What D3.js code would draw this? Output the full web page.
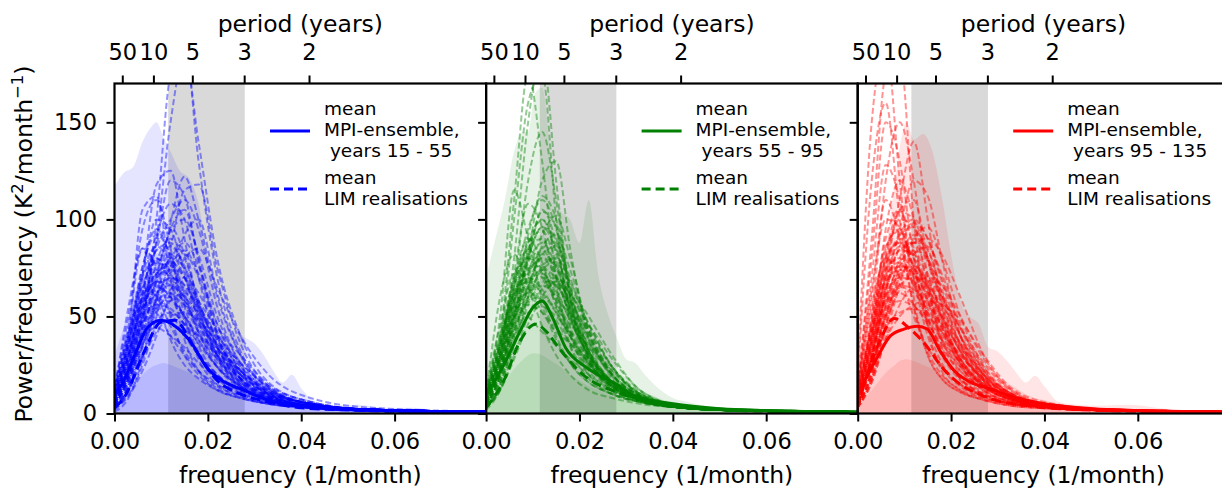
<!DOCTYPE html>
<html>
<head>
<meta charset="utf-8">
<script src="https://cdn.jsdelivr.net/npm/d3@7"></script>
<style>
  body { margin: 0; background: #fff; }
  svg { display: block; font-family: "DejaVu Sans", sans-serif; }
</style>
</head>
<body>
<svg id="chart" width="1222" height="490"></svg>
<script>
// ---- data ----
const periodTicks = [50, 10, 5, 3, 2];          // years
const freqTicks = [0, 0.02, 0.04, 0.06];
const powerTicks = [0, 50, 100, 150];
const band = [0.0115, 0.0279];                   // grey ENSO band
const yearLabels = ['15 - 55', '55 - 95', '95 - 135'];
const colors = ['blue', 'green', 'red'];

// frequency grid of the single LIM realisations
const realFreq = [0, 0.003, 0.006, 0.009, 0.012, 0.015, 0.018, 0.022, 0.027, 0.033, 0.042, 0.055, 0.08];

const blueReal = [
  [8, 30, 70, 118, 125, 90, 55, 30, 16, 9, 4, 2, 1],
  [5, 20, 50, 90, 150, 185, 140, 80, 40, 16, 6, 2, 1],
  [3, 15, 45, 100, 175, 190, 130, 70, 32, 14, 5, 2, 1],
  [10, 35, 75, 95, 80, 55, 35, 20, 12, 7, 3, 1.5, 0.8],
  [6, 25, 60, 85, 100, 110, 95, 55, 25, 11, 5, 2, 1],
  [12, 45, 85, 75, 50, 30, 20, 12, 8, 5, 3, 1.5, 0.8],
  [4, 18, 40, 70, 95, 105, 80, 40, 18, 9, 4, 2, 1],
  [9, 30, 55, 65, 60, 45, 30, 18, 10, 6, 3, 1.5, 0.8],
  [2, 12, 35, 60, 80, 75, 55, 30, 15, 8, 4, 2, 1],
  [15, 50, 95, 110, 85, 50, 28, 15, 9, 5, 3, 1.5, 0.8],
  [7, 28, 62, 92, 108, 100, 70, 35, 17, 8, 4, 2, 1],
  [5, 20, 42, 55, 58, 50, 38, 24, 14, 8, 4, 2, 1],
  [10, 38, 70, 80, 68, 48, 32, 20, 11, 6, 3, 1.5, 0.8],
  [3, 10, 25, 50, 85, 115, 118, 75, 36, 14, 5, 2, 1],
  [8, 32, 60, 72, 78, 70, 52, 32, 18, 9, 4, 2, 1],
  [12, 40, 65, 60, 45, 32, 22, 14, 9, 5, 3, 1.5, 0.8],
  [6, 22, 48, 78, 90, 80, 58, 35, 20, 10, 4, 2, 1],
  [4, 16, 35, 48, 52, 46, 36, 24, 14, 8, 4, 2, 1],
  [9, 35, 72, 100, 95, 72, 48, 28, 15, 8, 4, 2, 1],
  [2, 9, 22, 40, 62, 80, 85, 65, 40, 20, 8, 3, 1],
  [14, 42, 58, 52, 40, 30, 22, 15, 10, 6, 3, 1.5, 0.8],
  [5, 24, 55, 88, 120, 112, 78, 42, 20, 10, 5, 2, 1],
  [7, 26, 50, 62, 66, 60, 48, 34, 22, 12, 5, 2, 1],
  [3, 14, 30, 45, 58, 62, 55, 40, 26, 14, 6, 2, 1],
  [11, 36, 64, 84, 88, 74, 52, 30, 16, 8, 4, 2, 1],
  [6, 20, 38, 44, 40, 34, 26, 18, 11, 7, 3, 1.5, 0.8],
  [4, 18, 42, 68, 82, 70, 50, 30, 18, 10, 5, 2, 1],
  [8, 30, 58, 74, 70, 56, 42, 30, 20, 11, 5, 2, 1],
  [1, 8, 28, 60, 98, 122, 100, 60, 30, 13, 5, 2, 1],
  [10, 30, 48, 58, 62, 58, 46, 28, 14, 7, 3, 1.5, 0.8],
  [6, 40, 105, 112, 70, 38, 22, 13, 8, 5, 3, 1.5, 0.8],
  [10, 55, 85, 60, 38, 25, 18, 12, 8, 5, 3, 1.5, 0.8],
  [5, 22, 52, 80, 75, 82, 70, 40, 18, 9, 4, 2, 1],
  [3, 12, 30, 55, 72, 92, 100, 62, 30, 13, 5, 2, 1],
  [4, 20, 45, 62, 70, 64, 50, 36, 22, 11, 5, 2, 1],
  [7, 28, 52, 70, 74, 66, 54, 38, 24, 12, 5, 2, 1],
  [10, 34, 58, 66, 60, 50, 40, 28, 16, 8, 4, 2, 1],
  [5, 18, 36, 52, 64, 70, 62, 42, 22, 10, 4, 2, 1],
  [12, 42, 72, 86, 78, 60, 42, 26, 14, 7, 3, 1.5, 0.8],
  [3, 14, 34, 58, 76, 84, 72, 46, 24, 11, 5, 2, 1],
  [8, 26, 46, 56, 54, 46, 40, 32, 20, 10, 4, 2, 1],
  [6, 24, 50, 76, 86, 76, 56, 34, 18, 9, 4, 2, 1],
  [9, 36, 66, 78, 72, 58, 44, 30, 17, 8, 4, 2, 1],
  [4, 16, 38, 60, 70, 66, 56, 38, 20, 10, 4, 2, 1],
  [11, 32, 54, 60, 52, 40, 30, 20, 12, 7, 3, 1.5, 0.8],
  [5, 22, 48, 68, 80, 88, 76, 46, 22, 10, 4, 2, 1],
  [7, 30, 62, 88, 96, 82, 58, 34, 18, 9, 4, 2, 1],
  [3, 12, 28, 42, 50, 52, 48, 36, 22, 11, 5, 2, 1],
  [10, 40, 76, 92, 82, 62, 42, 24, 13, 7, 3, 1.5, 0.8],
  [6, 20, 40, 54, 60, 56, 46, 34, 22, 12, 5, 2, 1],
  [8, 30, 56, 68, 66, 60, 52, 40, 26, 13, 5, 2, 1],
  [4, 18, 44, 72, 94, 100, 82, 50, 26, 12, 5, 2, 1],
  [12, 38, 60, 68, 62, 50, 38, 24, 14, 7, 3, 1.5, 0.8],
  [5, 26, 54, 72, 76, 70, 58, 44, 30, 15, 6, 2, 1]
];

const greenReal = [
  [6, 30, 80, 150, 185, 120, 60, 28, 14, 7, 3, 1.5, 0.8],
  [8, 40, 110, 175, 130, 70, 35, 18, 10, 6, 3, 1.5, 0.8],
  [5, 25, 65, 120, 145, 110, 60, 28, 13, 7, 3, 1.5, 0.8],
  [10, 60, 82, 65, 45, 30, 20, 12, 8, 5, 3, 1.5, 0.8],
  [7, 28, 60, 88, 100, 85, 55, 28, 13, 7, 3, 1.5, 0.8],
  [4, 20, 50, 80, 96, 90, 62, 32, 15, 8, 3, 1.5, 0.8],
  [9, 35, 70, 90, 78, 55, 35, 20, 11, 6, 3, 1.5, 0.8],
  [3, 14, 38, 65, 82, 75, 55, 32, 16, 8, 3, 1.5, 0.8],
  [12, 45, 72, 70, 55, 38, 26, 16, 10, 6, 3, 1.5, 0.8],
  [5, 22, 48, 72, 92, 102, 80, 42, 18, 8, 3, 1.5, 0.8],
  [8, 32, 58, 75, 70, 58, 42, 26, 14, 7, 3, 1.5, 0.8],
  [2, 12, 34, 60, 85, 88, 66, 50, 30, 12, 4, 2, 1],
  [6, 24, 52, 68, 72, 62, 48, 30, 16, 8, 3, 1.5, 0.8],
  [10, 38, 62, 64, 52, 42, 36, 28, 16, 8, 3, 1.5, 0.8],
  [4, 18, 42, 58, 60, 52, 40, 25, 14, 7, 3, 1.5, 0.8],
  [7, 30, 66, 95, 110, 95, 60, 30, 14, 7, 3, 1.5, 0.8],
  [5, 20, 40, 52, 55, 50, 42, 35, 22, 10, 4, 2, 1],
  [3, 16, 44, 78, 105, 88, 52, 26, 12, 6, 3, 1.5, 0.8],
  [9, 30, 54, 62, 58, 48, 36, 24, 14, 7, 3, 1.5, 0.8],
  [6, 26, 55, 85, 90, 70, 52, 45, 28, 12, 4, 2, 1],
  [11, 40, 55, 50, 42, 35, 28, 20, 12, 7, 3, 1.5, 0.8],
  [4, 20, 48, 82, 120, 130, 85, 38, 16, 8, 3, 1.5, 0.8],
  [6, 22, 45, 60, 68, 66, 52, 32, 17, 8, 3, 1.5, 0.8],
  [8, 34, 68, 80, 74, 60, 44, 28, 15, 7, 3, 1.5, 0.8],
  [3, 12, 28, 46, 60, 68, 62, 44, 24, 11, 4, 2, 1],
  [7, 50, 115, 90, 60, 40, 26, 16, 10, 6, 3, 1.5, 0.8],
  [5, 24, 56, 92, 112, 100, 66, 32, 15, 7, 3, 1.5, 0.8],
  [9, 28, 50, 56, 52, 44, 36, 26, 16, 8, 3, 1.5, 0.8],
  [4, 16, 36, 56, 76, 80, 68, 46, 24, 10, 4, 2, 1],
  [6, 30, 72, 108, 96, 64, 40, 22, 12, 6, 3, 1.5, 0.8],
  [2, 35, 100, 160, 175, 100, 45, 20, 10, 6, 3, 1.5, 0.8],
  [8, 36, 62, 74, 84, 72, 50, 30, 15, 7, 3, 1.5, 0.8],
  [5, 22, 50, 72, 80, 70, 50, 30, 15, 7, 3, 1.5, 0.8],
  [8, 30, 58, 78, 88, 76, 54, 32, 16, 8, 3, 1.5, 0.8],
  [4, 18, 42, 66, 82, 86, 70, 42, 20, 9, 3, 1.5, 0.8],
  [10, 36, 62, 70, 64, 52, 40, 26, 14, 7, 3, 1.5, 0.8],
  [6, 24, 52, 80, 96, 84, 58, 32, 16, 8, 3, 1.5, 0.8],
  [3, 14, 36, 60, 74, 78, 64, 40, 20, 9, 3, 1.5, 0.8],
  [7, 28, 56, 74, 76, 64, 48, 30, 16, 8, 3, 1.5, 0.8],
  [9, 34, 60, 68, 62, 54, 46, 34, 20, 9, 3, 1.5, 0.8],
  [5, 20, 46, 70, 86, 92, 74, 44, 20, 9, 3, 1.5, 0.8],
  [6, 26, 50, 62, 66, 60, 50, 36, 20, 9, 3, 1.5, 0.8],
  [8, 32, 64, 88, 94, 78, 54, 30, 15, 7, 3, 1.5, 0.8],
  [4, 16, 40, 64, 80, 76, 60, 38, 19, 9, 3, 1.5, 0.8],
  [10, 40, 70, 84, 76, 58, 42, 26, 14, 7, 3, 1.5, 0.8],
  [5, 22, 44, 58, 66, 70, 62, 46, 24, 10, 4, 2, 1],
  [7, 30, 60, 82, 104, 96, 64, 34, 16, 8, 3, 1.5, 0.8],
  [3, 12, 30, 50, 64, 68, 58, 40, 22, 10, 4, 2, 1],
  [9, 36, 66, 80, 72, 56, 40, 24, 13, 7, 3, 1.5, 0.8],
  [6, 24, 48, 66, 74, 70, 58, 42, 24, 10, 4, 2, 1],
  [4, 20, 50, 84, 100, 82, 52, 28, 14, 7, 3, 1.5, 0.8],
  [8, 28, 52, 64, 70, 66, 56, 38, 20, 9, 3, 1.5, 0.8]
];

const redReal = [
  [20, 150, 190, 120, 60, 30, 18, 11, 7, 4, 2.5, 1.5, 0.8],
  [10, 90, 175, 185, 100, 45, 22, 12, 7, 4, 2.5, 1.5, 0.8],
  [8, 50, 120, 150, 120, 70, 35, 18, 10, 5, 3, 1.5, 0.8],
  [6, 40, 95, 120, 100, 65, 38, 20, 11, 6, 3, 1.5, 0.8],
  [12, 60, 110, 90, 55, 32, 20, 12, 8, 5, 3, 1.5, 0.8],
  [5, 30, 75, 105, 110, 80, 48, 25, 12, 6, 3, 1.5, 0.8],
  [9, 45, 85, 95, 75, 50, 32, 18, 10, 6, 3, 1.5, 0.8],
  [4, 22, 55, 80, 92, 85, 62, 35, 17, 8, 3, 1.5, 0.8],
  [14, 55, 80, 70, 50, 34, 24, 15, 9, 5, 3, 1.5, 0.8],
  [6, 28, 62, 85, 88, 72, 50, 28, 14, 7, 3, 1.5, 0.8],
  [3, 18, 45, 72, 90, 96, 80, 50, 24, 10, 4, 2, 1],
  [10, 40, 70, 78, 66, 48, 34, 22, 13, 7, 3, 1.5, 0.8],
  [7, 30, 60, 70, 68, 58, 44, 30, 18, 9, 4, 2, 1],
  [5, 25, 52, 65, 62, 52, 40, 26, 14, 7, 3, 1.5, 0.8],
  [12, 70, 128, 110, 70, 40, 24, 14, 8, 5, 3, 1.5, 0.8],
  [4, 20, 48, 75, 88, 90, 82, 60, 30, 12, 4, 2, 1],
  [8, 35, 66, 76, 72, 60, 45, 28, 15, 8, 3, 1.5, 0.8],
  [6, 26, 50, 58, 55, 48, 38, 26, 15, 8, 3, 1.5, 0.8],
  [15, 80, 150, 130, 80, 45, 26, 15, 9, 5, 3, 1.5, 0.8],
  [5, 30, 68, 92, 100, 90, 70, 44, 22, 10, 4, 2, 1],
  [9, 36, 58, 62, 56, 46, 36, 24, 14, 7, 3, 1.5, 0.8],
  [3, 16, 40, 66, 84, 80, 62, 40, 20, 9, 4, 2, 1],
  [11, 48, 90, 105, 85, 58, 38, 22, 12, 6, 3, 1.5, 0.8],
  [6, 24, 44, 52, 54, 50, 42, 30, 18, 9, 4, 2, 1],
  [7, 38, 80, 100, 96, 78, 60, 44, 26, 11, 4, 2, 1],
  [4, 22, 50, 70, 76, 66, 50, 32, 17, 8, 3, 1.5, 0.8],
  [18, 120, 160, 100, 55, 30, 18, 11, 7, 4, 2.5, 1.5, 0.8],
  [5, 28, 64, 95, 120, 112, 80, 40, 18, 8, 3, 1.5, 0.8],
  [8, 32, 55, 66, 64, 56, 46, 34, 20, 10, 4, 2, 1],
  [10, 44, 78, 88, 80, 64, 46, 28, 15, 8, 3, 1.5, 0.8],
  [6, 34, 72, 110, 140, 100, 55, 26, 12, 6, 3, 1.5, 0.8],
  [4, 18, 38, 50, 56, 58, 56, 48, 30, 13, 5, 2, 1],
  [6, 30, 64, 84, 82, 66, 48, 28, 14, 7, 3, 1.5, 0.8],
  [9, 40, 76, 90, 80, 62, 44, 26, 14, 7, 3, 1.5, 0.8],
  [4, 22, 52, 76, 88, 80, 60, 36, 18, 8, 3, 1.5, 0.8],
  [12, 50, 86, 94, 74, 50, 32, 18, 10, 5, 3, 1.5, 0.8],
  [5, 26, 56, 72, 74, 64, 50, 32, 17, 8, 3, 1.5, 0.8],
  [8, 36, 70, 86, 84, 70, 52, 32, 16, 8, 3, 1.5, 0.8],
  [3, 18, 44, 68, 82, 86, 72, 46, 22, 10, 4, 2, 1],
  [10, 44, 74, 80, 68, 52, 38, 24, 13, 7, 3, 1.5, 0.8],
  [6, 28, 58, 78, 90, 84, 64, 40, 20, 9, 3, 1.5, 0.8],
  [7, 34, 64, 76, 72, 62, 50, 36, 20, 9, 3, 1.5, 0.8],
  [14, 64, 100, 96, 70, 46, 30, 17, 9, 5, 3, 1.5, 0.8],
  [5, 24, 50, 66, 70, 66, 56, 40, 22, 10, 4, 2, 1],
  [9, 38, 72, 92, 96, 80, 58, 34, 17, 8, 3, 1.5, 0.8],
  [4, 20, 46, 64, 72, 70, 60, 44, 24, 10, 4, 2, 1],
  [11, 46, 80, 88, 76, 58, 42, 26, 14, 7, 3, 1.5, 0.8],
  [6, 30, 60, 74, 76, 68, 54, 36, 19, 9, 3, 1.5, 0.8],
  [8, 40, 82, 104, 100, 80, 56, 32, 16, 8, 3, 1.5, 0.8],
  [3, 16, 38, 56, 66, 70, 66, 50, 28, 12, 4, 2, 1],
  [10, 42, 68, 74, 66, 54, 42, 28, 15, 7, 3, 1.5, 0.8],
  [5, 28, 62, 86, 98, 90, 68, 40, 20, 9, 3, 1.5, 0.8]
];

// envelopes of the MPI ensemble (shaded)
const fillFreq = [0, 0.002, 0.004, 0.006, 0.008, 0.009, 0.0105, 0.012, 0.014, 0.016, 0.018, 0.020, 0.022, 0.024,
  0.026, 0.028, 0.030, 0.032, 0.034, 0.036, 0.038, 0.040, 0.043, 0.047, 0.052, 0.058, 0.064, 0.070, 0.080];

const blueUpper = [117, 124, 127, 140, 148, 150, 142, 135, 125, 121, 108, 80, 58, 46, 42, 39, 36, 30, 22, 16, 20, 13, 6, 4, 4.5, 3, 3, 1.5, 1];
const blueMid = [30, 45, 60, 72, 80, 82, 82, 80, 72, 60, 50, 42, 36, 30, 25, 20, 16, 13, 10, 8, 7, 5, 4, 3, 2.5, 2, 1.5, 1.2, 0.8];
const blueLow = [3, 8, 14, 20, 24, 25, 26, 25, 23, 21, 18, 16, 13, 11, 9, 8, 7, 6, 5, 4, 3.5, 3, 2.5, 2, 1.5, 1.2, 1, 0.8, 0.5];

const greenUpper = [70, 90, 110, 135, 145, 145, 165, 168, 130, 104, 100, 88, 110, 72, 52, 39, 28, 26, 20, 15, 11, 8, 6, 4, 3, 2.5, 2, 1.5, 1];
const greenMid = [22, 38, 55, 70, 82, 86, 92, 92, 82, 70, 58, 48, 40, 33, 27, 22, 18, 14, 11, 9, 7, 6, 4.5, 3.5, 2.5, 2, 1.5, 1.2, 0.8];
const greenLow = [3, 9, 16, 23, 28, 30, 31, 30, 27, 24, 20, 17, 14, 12, 10, 8, 7, 6, 5, 4, 3.5, 3, 2.5, 2, 1.5, 1.2, 1, 0.8, 0.5];

const redUpper = [58, 60, 70, 85, 120, 137, 150, 141, 144, 135, 112, 82, 58, 50, 46, 34, 32, 27, 21, 16, 19.5, 14, 6, 4.5, 4, 4.5, 3, 1.5, 1];
const redMid = [25, 38, 50, 62, 70, 73, 76, 76, 72, 64, 55, 46, 38, 32, 27, 23, 19, 16, 13, 10, 8, 7, 5, 4, 3, 2.5, 2, 1.5, 1];
const redLow = [3, 9, 15, 21, 25, 27, 28, 27, 25, 23, 20, 17, 14, 12, 10, 8.5, 7, 6, 5, 4, 3.5, 3, 2.5, 2, 1.5, 1.2, 1, 0.8, 0.5];

// ensemble means
const blueMpiFreq = [0, 0.002, 0.005, 0.007, 0.010, 0.013, 0.0163, 0.020, 0.0227, 0.0277, 0.0334, 0.040, 0.050, 0.060, 0.080];
const blueMpi = [9, 17, 34, 44, 48, 45, 37, 23, 17.5, 12, 6.5, 3.8, 2, 1.3, 0.7];
const blueLimFreq = [0, 0.002, 0.0064, 0.0099, 0.013, 0.017, 0.022, 0.027, 0.032, 0.040, 0.050, 0.060, 0.080];
const blueLim = [3, 8, 32, 47, 48, 34, 17, 10, 6.5, 3, 1.8, 1.1, 0.6];

const greenMpiFreq = [0, 0.0042, 0.007, 0.010, 0.012, 0.0143, 0.017, 0.0213, 0.028, 0.032, 0.040, 0.050, 0.060, 0.080];
const greenMpi = [9, 27, 41, 54.5, 58, 49, 34, 24, 15, 9, 5, 2.5, 1.5, 0.7];
const greenLimFreq = [0, 0.004, 0.007, 0.0106, 0.013, 0.0155, 0.021, 0.028, 0.035, 0.040, 0.050, 0.060, 0.080];
const greenLim = [3, 18, 36, 46, 42, 34, 19.5, 11, 6, 4, 2, 1.2, 0.6];

const redMpiFreq = [0, 0.0042, 0.007, 0.0099, 0.0128, 0.0149, 0.0177, 0.0207, 0.0242, 0.028, 0.034, 0.040, 0.050, 0.060, 0.080];
const redMpi = [10, 29, 40, 43.5, 45, 43.5, 32, 22, 16, 13, 8, 5, 2.5, 1.5, 0.7];
const redLimFreq = [0, 0.002, 0.0048, 0.0078, 0.011, 0.015, 0.018, 0.022, 0.026, 0.030, 0.035, 0.040, 0.050, 0.060, 0.080];
const redLim = [4, 20, 37.5, 49, 44, 34, 24, 15, 10, 6.5, 4.5, 3, 1.8, 1.1, 0.6];

const panels = [
  { real: blueReal, fills: [blueUpper, blueMid, blueLow], mpiF: blueMpiFreq, mpi: blueMpi, limF: blueLimFreq, lim: blueLim },
  { real: greenReal, fills: [greenUpper, greenMid, greenLow], mpiF: greenMpiFreq, mpi: greenMpi, limF: greenLimFreq, lim: greenLim },
  { real: redReal, fills: [redUpper, redMid, redLow], mpiF: redMpiFreq, mpi: redMpi, limF: redLimFreq, lim: redLim }
];

// ---- layout ----
const svg = d3.select('#chart');
const W = 371.6, plotTop = 83.5, plotBottom = 413.5;
const x0s = [114.5, 486.1, 857.7];
const x = d3.scaleLinear().domain([0, 0.0796]).range([0, W]);
const y = d3.scaleLinear().domain([0, 170]).range([plotBottom, plotTop]);

const line = d3.line().x(d => x(d[0])).y(d => y(d[1])).curve(d3.curveMonotoneX);
const area = d3.area().x(d => x(d[0])).y0(y(0)).y1(d => y(d[1])).curve(d3.curveMonotoneX);
const zip = (f, v) => f.map((fr, i) => [fr, v[i]]);

const styleAxis = (sel, size) => {
  sel.select('.domain').remove();
  sel.selectAll('.tick line').attr('stroke', '#000').attr('stroke-width', 2);
  sel.selectAll('.tick text').attr('fill', '#000').attr('font-size', size)
    .attr('font-family', '"DejaVu Sans", sans-serif');
};

panels.forEach((p, i) => {
  const color = colors[i];
  const g = svg.append('g').attr('transform', `translate(${x0s[i]},0)`);

  g.append('clipPath').attr('id', 'clip' + i)
    .append('rect').attr('x', 0).attr('y', plotTop).attr('width', W).attr('height', plotBottom - plotTop);
  const plot = g.append('g').attr('clip-path', `url(#clip${i})`);

  plot.append('rect')
    .attr('x', x(band[0])).attr('width', x(band[1]) - x(band[0]))
    .attr('y', plotTop).attr('height', plotBottom - plotTop)
    .attr('fill', '#d9d9d9');

  p.fills.forEach(vals => {
    plot.append('path').attr('d', area(zip(fillFreq, vals)))
      .attr('fill', color).attr('fill-opacity', 0.1);
  });

  p.real.forEach(vals => {
    plot.append('path').attr('d', line(zip(realFreq, vals)))
      .attr('fill', 'none').attr('stroke', color).attr('stroke-opacity', 0.42)
      .attr('stroke-width', 2).attr('stroke-dasharray', '6,3');
  });

  plot.append('path').attr('d', line(zip(p.mpiF, p.mpi)))
    .attr('fill', 'none').attr('stroke', color).attr('stroke-width', 3);
  plot.append('path').attr('d', line(zip(p.limF, p.lim)))
    .attr('fill', 'none').attr('stroke', color).attr('stroke-width', 3)
    .attr('stroke-dasharray', '10,5');

  // axes
  g.append('g').attr('transform', `translate(0,${plotBottom})`)
    .call(d3.axisBottom(x).tickValues(freqTicks).tickFormat(d3.format('.2f')).tickSize(8).tickPadding(12))
    .call(s => styleAxis(s, 22.5));

  const left = g.append('g')
    .call(d3.axisLeft(y).tickValues(powerTicks).tickSize(8).tickPadding(9.5))
    .call(s => styleAxis(s, 22.5));
  if (i > 0) left.selectAll('.tick text').remove();

  g.append('g').attr('transform', `translate(0,${plotTop})`)
    .call(d3.axisTop(x).tickValues(periodTicks.map(yr => 1 / (12 * yr)))
      .tickFormat((d, k) => periodTicks[k]).tickSize(8).tickPadding(15.5))
    .call(s => styleAxis(s, 22.5));

  // spines
  g.append('rect').attr('x', 0).attr('y', plotTop).attr('width', W).attr('height', plotBottom - plotTop)
    .attr('fill', 'none').attr('stroke', '#000').attr('stroke-width', 2.2);

  g.append('text').attr('x', W / 2).attr('y', 31.7).attr('text-anchor', 'middle')
    .attr('font-size', 23.5).text('period (years)');
  g.append('text').attr('x', W / 2).attr('y', 483).attr('text-anchor', 'middle')
    .attr('font-size', 23.5).text('frequency (1/month)');

  // legend
  const lg = g.append('g').attr('font-size', 18.5).attr('fill', '#000');
  lg.append('line').attr('x1', 155.5).attr('x2', 195.5).attr('y1', 131).attr('y2', 131)
    .attr('stroke', color).attr('stroke-width', 3);
  lg.append('line').attr('x1', 155.5).attr('x2', 195.5).attr('y1', 189).attr('y2', 189)
    .attr('stroke', color).attr('stroke-width', 3).attr('stroke-dasharray', '9,5');
  const rows = [['mean', 115], ['MPI-ensemble,', 136], [' years ' + yearLabels[i], 157],
    ['mean', 184], ['LIM realisations', 205]];
  rows.forEach(r => {
    lg.append('text').attr('x', 209.5).attr('y', r[1]).style('white-space', 'pre').text(r[0]);
  });
});

// y label
const yl = svg.append('text').attr('transform', 'translate(31.7,244) rotate(-90)')
  .attr('text-anchor', 'middle').attr('font-size', 23.5);
yl.append('tspan').text('Power/frequency (K');
yl.append('tspan').attr('font-size', 16.5).attr('dy', -9).text('2');
yl.append('tspan').attr('dy', 9).text('/month');
yl.append('tspan').attr('font-size', 16.5).attr('dy', -9).text('\u22121');
yl.append('tspan').attr('dy', 9).text(')');
</script>
</body>
</html>
